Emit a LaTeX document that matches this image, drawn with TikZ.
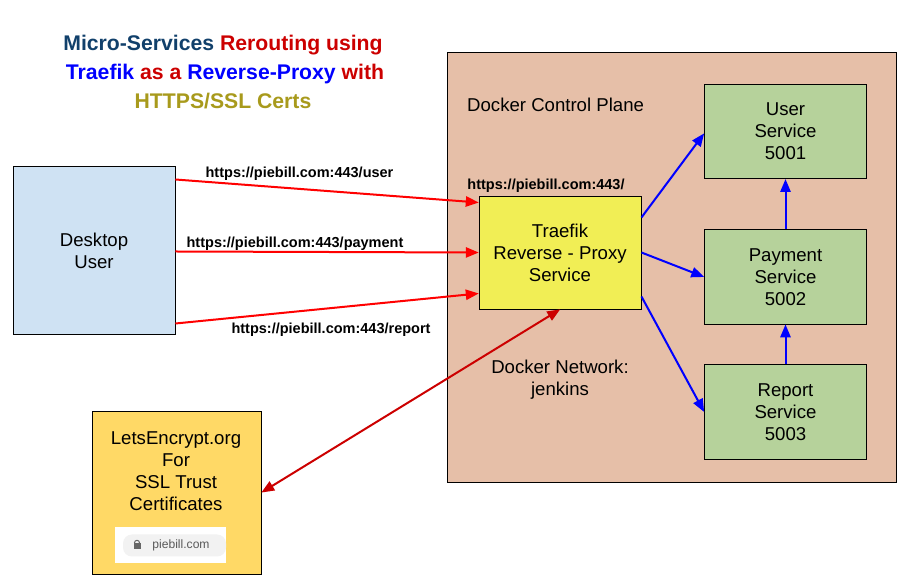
\documentclass[tikz,border=0pt]{standalone}
\usepackage{fontspec}
\setmainfont{Liberation Sans}
\usepackage{xcolor}
\usetikzlibrary{arrows,positioning}
\definecolor{planefill}{HTML}{E6BFA8}
\definecolor{deskfill}{HTML}{CFE2F3}
\definecolor{proxyfill}{HTML}{F1EE55}
\definecolor{svcfill}{HTML}{B6D29B}
\definecolor{certfill}{HTML}{FFD966}
\definecolor{darkred}{HTML}{CC0000}
\definecolor{titlenavy}{HTML}{11406B}
\definecolor{titleolive}{HTML}{A89A1C}
\tikzset{
  boxnode/.style={draw=black, line width=0.9pt, align=center, font=\fontsize{18.6}{22}\selectfont},
  svcnode/.style={boxnode, fill=svcfill, minimum width=162pt, minimum height=94.5pt},
  urlnode/.style={font=\fontsize{14.5}{16}\selectfont\bfseries, inner sep=0pt},
  plaintext/.style={align=center, inner sep=0pt, font=\fontsize{18.6}{22}\selectfont},
  reqline/.style={draw=red, line width=2pt, arrows=-triangle 45},
  svcline/.style={draw=blue, line width=2pt, arrows=-triangle 45},
}
\begin{document}
\begin{tikzpicture}[x=1pt, y=1pt]
  \useasboundingbox (0,0) rectangle (901,580);

  % Title
  \node(title)[align=center, inner sep=0pt, font=\fontsize{21.2}{29}\selectfont\bfseries] at (223,508)
    {\textcolor{titlenavy}{Micro-Services} \textcolor{darkred}{Rerouting using}\\
     \hspace*{4pt}\textcolor{blue}{Traefik} \textcolor{darkred}{as a} \textcolor{blue}{Reverse-Proxy} \textcolor{darkred}{with}\\
     \textcolor{titleolive}{HTTPS/SSL Certs}};

  % Docker area
  \node(plane)[boxnode, fill=planefill, minimum width=449pt, minimum height=430pt] at (671.5,312.5) {};
  \node(planetext)[plaintext, anchor=west] at (467,475) {Docker Control Plane};
  \node(nettext)[plaintext] at (560,200.5) {Docker Network:\\jenkins};

  % Boxes
  \node(desktop)[boxnode, fill=deskfill, minimum width=162pt, minimum height=168pt] at (94,329.5) {Desktop\\User};
  \node(traefik)[boxnode, fill=proxyfill, minimum width=162pt, minimum height=113pt] at (560,327.5) {Traefik\\Reverse - Proxy\\Service};
  \node(user)[svcnode] at (785.5,448.5) {User\\Service\\5001};
  \node(payment)[svcnode, below=50pt of user] {Payment\\Service\\5002};
  \node(report)[svcnode, below=39.5pt of payment] {Report\\Service\\5003};

  % Certificate box
  \node(certs)[boxnode, fill=certfill, minimum width=169pt, minimum height=163pt] at (176.5,87.5) {};
  \node(certtext)[plaintext] at (176,109) {LetsEncrypt.org\\For\\SSL Trust\\Certificates};
  \node(badge)[fill=white, minimum width=111pt, minimum height=36pt, inner sep=0pt] at (170.5,35) {};
  \node(pill)[fill=black!5, rounded corners=9pt, minimum width=103pt, minimum height=22pt, inner sep=0pt] at (174.5,34.5) {};
  \node(site)[inner sep=0pt, text=black!65, font=\fontsize{12.1}{14}\selectfont] at (181,35) {piebill.com};
  \node(lockbody)[fill=black!60, minimum width=7pt, minimum height=6pt, inner sep=0pt] at (137,33.5) {};
  \node(lockloop)[draw=black!60, line width=1pt, circle, minimum size=5pt, inner sep=0pt, above=-2.5pt of lockbody] {};

  % Url labels
  \node(userurl)[urlnode] at (299.5,406.5) {https://piebill.com:443/user};
  \node(payurl)[urlnode] at (295,336.5) {https://piebill.com:443/payment};
  \node(reporturl)[urlnode] at (331,250.5) {https://piebill.com:443/report};
  \node(rooturl)[urlnode] at (546,394.5) {https://piebill.com:443/};

  % Arrows
  \draw[reqline] ([yshift=71pt]desktop.east) -- ([yshift=50pt]traefik.west);
  \draw[reqline] ([yshift=-1pt]desktop.east) -- (traefik.west);
  \draw[reqline] ([yshift=-73pt]desktop.east) -- ([yshift=-41pt]traefik.west);
  \draw[svcline] ([yshift=35pt]traefik.east) -- ([yshift=-2pt]user.west);
  \draw[svcline] (traefik.east) -- (payment.west);
  \draw[svcline] ([yshift=-44pt]traefik.east) -- (report.west);
  \draw[svcline] (payment.north) -- (user.south);
  \draw[svcline] (report.north) -- (payment.south);
  \draw[draw=darkred, line width=2pt, arrows=triangle 45-triangle 45] (traefik.south) -- (certs.east);
\end{tikzpicture}
\end{document}
